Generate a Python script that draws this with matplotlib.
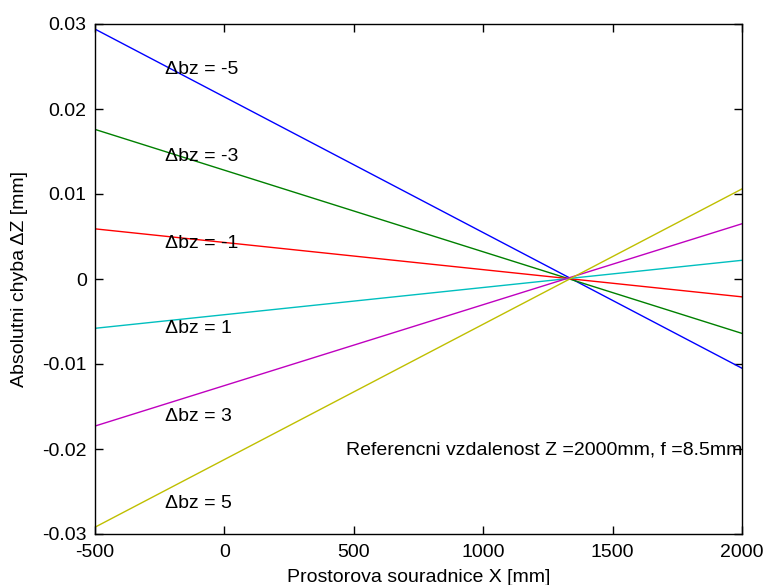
import numpy as np
import matplotlib.pyplot as plt

plt.rcParams['font.family'] = ['Liberation Sans', 'DejaVu Sans']
plt.rcParams['axes.unicode_minus'] = False

# prostorova souradnice X [mm] - koncove body primek
x_mm = [-500, 2000]
dbz = [-5, -3, -1, 1, 3, 5]
# absolutni chyba dZ [mm] na koncich intervalu pro kazde dbz
dz_left = [0.0294, 0.0176, 0.0059, -0.0058, -0.0173, -0.0292]
dz_right = [-0.0105, -0.0064, -0.0021, 0.0022, 0.0065, 0.0106]
colors = ['#0000ff', '#008000', '#ff0000', '#00bfbf', '#bf00bf', '#bfbf00']
# polohy popisku
label_x = -230
label_y = [0.0246, 0.0144, 0.0042, -0.0058, -0.0162, -0.0264]

fig = plt.figure(figsize=(7.65, 5.85), dpi=100)
ax = fig.add_axes([95 / 765, 51 / 585, 647 / 765, 510 / 585])

for b, yl, yr, c, ty in zip(dbz, dz_left, dz_right, colors, label_y):
    ax.plot(x_mm, [yl, yr], color=c, linewidth=1)
    ax.text(label_x, ty, '\u0394bz = %d' % b, fontsize=14, va='center', ha='left')

ax.text(2000, -0.0201, 'Referencni vzdalenost Z =2000mm, f =8.5mm',
        fontsize=14, va='center', ha='right')

ax.set_xlim(-500, 2000)
ax.set_ylim(-0.03, 0.03)
ax.set_xticks(np.arange(-500, 2001, 500))
ax.set_yticks(np.arange(-0.03, 0.031, 0.01))
ax.set_yticklabels(['-0.03', '-0.02', '-0.01', '0', '0.01', '0.02', '0.03'])
ax.tick_params(direction='in', top=True, right=True, labelsize=14, length=6, width=1)
ax.tick_params(axis='x', pad=7)
ax.tick_params(axis='y', pad=6)
for s in ax.spines.values():
    s.set_linewidth(1)

ax.set_xlabel('Prostorova souradnice X [mm]', fontsize=14, labelpad=6)
ax.set_ylabel('Absolutni chyba \u0394Z [mm]', fontsize=14, labelpad=10)

fig.savefig('out.png', dpi=100)
